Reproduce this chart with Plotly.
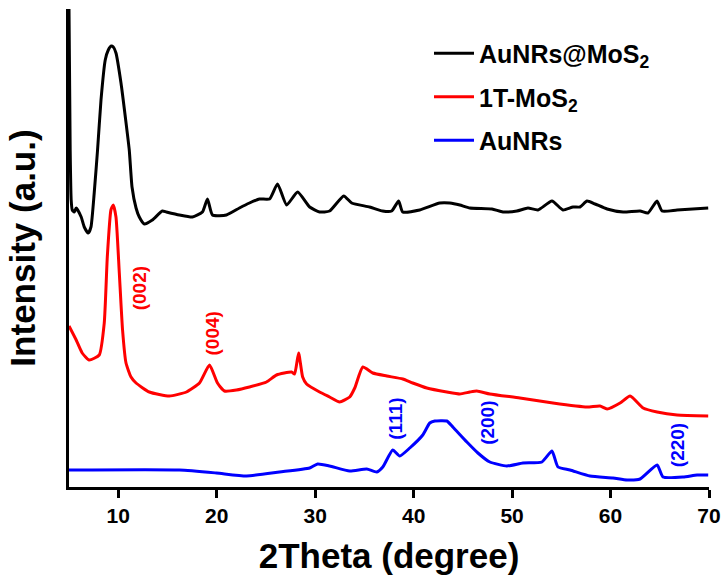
import plotly.graph_objects as go

# ---- data (2Theta in degrees, intensity in arbitrary offset units) ----
theta_aunrs_mos2 = [5.0, 5.12, 5.22, 5.33, 5.53, 5.73, 6.24, 6.55, 6.95, 7.23, 7.56, 7.9, 8.25,
                    8.68, 8.99, 9.29, 9.5, 9.77, 10.28, 10.72, 11.12, 11.4, 11.81, 12.14, 12.65,
                    13.46, 14.48, 14.89, 16.21, 17.53, 18.55, 19.06, 19.57, 20.99, 22.31, 23.33,
                    24.35, 25.37, 26.18, 27.1, 28.22, 29.44, 30.45, 31.47, 32.9, 33.71, 35.53,
                    36.85, 37.77, 38.48, 38.89, 40.62, 42.65, 43.68, 44.69, 45.71, 47.95, 49.07,
                    50.49, 51.61, 52.63, 54.05, 55.17, 56.19, 56.9, 57.61, 58.43, 59.65, 61.28,
                    63.0, 63.8, 64.72, 65.23, 66.76, 69.92]
int_aunrs_mos2 = [478, 337, 287, 277, 275, 279, 270, 260, 254, 260, 294, 337, 387,
                  427, 437, 441, 440, 434, 404, 370, 337, 300, 279, 270, 263,
                  267, 276, 275, 272, 270, 275, 288, 272, 272, 279, 284,
                  288, 288, 303, 282, 295, 280, 275, 276, 291, 284, 280,
                  276, 276, 286, 275, 277, 284, 284, 282, 279, 278, 275,
                  276, 279, 277, 286, 277, 280, 280, 286, 283, 278, 275,
                  276, 274, 286, 276, 277, 279]

theta_1t_mos2 = [5.0, 5.73, 6.34, 7.05, 8.07, 8.58, 8.89, 9.26, 9.5, 9.77, 10.11, 10.44, 10.79,
                 11.3, 11.81, 13.16, 15.2, 16.93, 18.25, 19.27, 20.08, 20.79, 22.01, 23.33,
                 25.06, 26.08, 27.6, 27.91, 28.32, 28.73, 29.13, 30.45, 31.47, 32.49, 33.51,
                 34.02, 34.84, 35.85, 37.28, 38.9, 39.91, 41.34, 43.37, 44.69, 45.71, 46.42,
                 47.74, 50.79, 54.15, 57.61, 58.93, 59.65, 60.97, 61.99, 63.31, 64.73, 66.76,
                 69.92]
int_1t_mos2 = [161, 147, 134, 127, 132, 164, 230, 277, 282, 270, 214, 157, 124,
               110, 104, 95, 91, 95, 104, 122, 104, 96, 97, 100,
               105, 112, 115, 113, 134, 110, 103, 95, 90, 85, 90,
               99, 120, 114, 111, 108, 104, 99, 95, 93, 95, 96,
               93, 89, 84, 80, 81, 78, 84, 91, 79, 75, 72,
               71]

theta_aunrs = [5.0, 16.21, 19.97, 23.03, 26.38, 29.44, 30.25, 31.47, 33.51, 35.24, 36.26,
               36.87, 37.88, 38.59, 39.61, 40.93, 41.64, 42.15, 43.37, 43.98, 45.41, 46.53,
               47.74, 49.47, 51.1, 53.03, 54.05, 54.66, 55.88, 57.91, 60.25, 61.68, 63.0,
               64.73, 65.33, 67.37, 68.79, 69.92]
int_aunrs = [17, 17, 14, 11, 15, 19, 23, 21, 16, 18, 15,
             20, 37, 31, 39, 52, 64, 66, 66, 60, 45, 34,
             25, 21, 24, 25, 36, 20, 17, 11, 9, 7, 8,
             22, 10, 10, 12, 12]

series_names = ["AuNRs@MoS<sub>2</sub>", "1T-MoS<sub>2</sub>", "AuNRs"]
series_colors = ["#000000", "#ff0000", "#0000ff"]

# peak labels: (text, 2Theta, intensity position, colour index)
peak_labels = ["(002)", "(004)", "(111)", "(200)", "(220)"]
peak_theta = [12.14, 19.57, 38.08, 47.44, 66.77]
peak_int = [199, 154, 68, 64, 42]
peak_series = [1, 1, 2, 2, 2]

x_ticks = [10, 20, 30, 40, 50, 60, 70]

FONT = "Liberation Sans, Arial, sans-serif"

fig = go.Figure()
for name, xs, ys, col in zip(series_names,
                             [theta_aunrs_mos2, theta_1t_mos2, theta_aunrs],
                             [int_aunrs_mos2, int_1t_mos2, int_aunrs],
                             series_colors):
    fig.add_trace(go.Scatter(x=xs, y=ys, mode="lines", name=name, legendgroup=name,
                             line=dict(color=col, width=3, shape="spline", smoothing=0.5)))

for t, xv, yv, si in zip(peak_labels, peak_theta, peak_int, peak_series):
    fig.add_annotation(x=xv, y=yv, text=t, showarrow=False, textangle=-90,
                       font=dict(family=FONT, size=19, color=series_colors[si], weight="bold"))

fig.update_layout(
    width=726, height=586,
    margin=dict(l=69, r=17, t=9, b=99),
    paper_bgcolor="white", plot_bgcolor="white",
    font=dict(family=FONT, color="black"),
    showlegend=True,
    legend=dict(x=0.5625, y=0.955, xanchor="left", yanchor="top",
                font=dict(family=FONT, size=25, color="black", weight="bold"),
                bgcolor="rgba(0,0,0,0)", tracegroupgap=8, itemwidth=40),
)
fig.update_xaxes(range=[5, 70], tickvals=x_ticks, ticks="outside", ticklen=8, tickwidth=3,
                 tickcolor="black", showline=True, linewidth=3, linecolor="black",
                 showgrid=False, zeroline=False, automargin=False,
                 tickfont=dict(family=FONT, size=21, color="black", weight="bold"),
                 title=dict(text="2Theta (degree)", standoff=18,
                            font=dict(family=FONT, size=35, color="black", weight="bold")))
fig.update_yaxes(range=[0, 478], showticklabels=False, ticks="", showline=True, linewidth=3,
                 linecolor="black", showgrid=False, zeroline=False, automargin=False,
                 title=dict(text="Intensity (a.u.)", standoff=20,
                            font=dict(family=FONT, size=35, color="black", weight="bold")))

fig.write_html("out.html", config={"displayModeBar": False},
               post_script="document.body.style.margin='0';document.body.style.overflow='hidden';")
